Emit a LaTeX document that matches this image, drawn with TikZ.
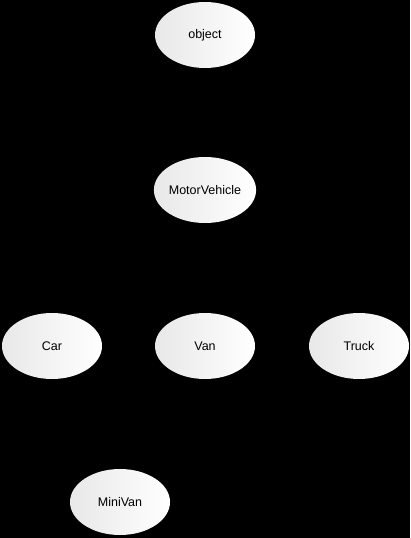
\documentclass[tikz,border=0pt]{standalone}
\usepackage{fontspec}
\setmainfont{Liberation Sans}
\usetikzlibrary{shapes.geometric}
\begin{document}
\begin{tikzpicture}[x=1pt,y=-1pt,
  cls/.style={ellipse, minimum width=100pt, minimum height=66pt, inner sep=0pt,
    left color=black!9, right color=white, draw=none, font=\fontsize{12.5}{14}\selectfont, text=black}]
\fill[black] (0,0) rectangle (410,538);
\useasboundingbox (0,0) rectangle (410,538);
\node[cls] (object) at (205,35) {object};
\node[cls] (mv) at (205,190) {MotorVehicle};
\node[cls] (car) at (52,346) {Car};
\node[cls] (van) at (205,346) {Van};
\node[cls] (truck) at (359,346) {Truck};
\node[cls] (minivan) at (120,502) {MiniVan};
\end{tikzpicture}
\end{document}
